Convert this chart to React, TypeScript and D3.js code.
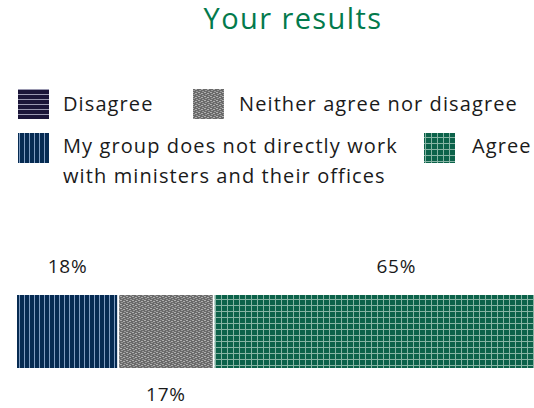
import React from "react";
import * as d3 from "d3";

const title = "Your results";
const barCategories = [
  "Disagree",
  "My group does not directly work with ministers and their offices",
  "Neither agree nor disagree",
  "Agree",
];
const barValues = [0, 18, 17, 65];
const legendOrder = [
  "Disagree",
  "Neither agree nor disagree",
  "My group does not directly work with ministers and their offices",
  "Agree",
];
const legendLines: Record<string, string[]> = {
  "Disagree": ["Disagree"],
  "Neither agree nor disagree": ["Neither agree nor disagree"],
  "My group does not directly work with ministers and their offices": [
    "My group does not directly work",
    "with ministers and their offices",
  ],
  "Agree": ["Agree"],
};

const patternIds: Record<string, string> = {
  "Disagree": "pDisagree",
  "Neither agree nor disagree": "pNeither",
  "My group does not directly work with ministers and their offices": "pGroup",
  "Agree": "pAgree",
};

const FONT = "'Open Sans', 'Noto Sans', sans-serif";

export default function App() {
  const W = 534, H = 408;
  const x = d3.scaleLinear().domain([0, 100]).range([17, 579]);
  const barTop = 295, barH = 73;

  const stacked: { cat: string; v: number; x0: number; x1: number }[] = [];
  let acc = 0;
  barCategories.forEach((c, i) => {
    const v = barValues[i];
    stacked.push({ cat: c, v, x0: acc, x1: acc + v });
    acc += v;
  });
  const visible = stacked.filter((s) => s.v > 0);

  const legendPos = [
    { x: 18, y: 89, tx: 63, ty: 111 },
    { x: 193, y: 89, tx: 239, ty: 111 },
    { x: 18, y: 133, tx: 63, ty: 153 },
    { x: 424, y: 133, tx: 472, ty: 153 },
  ];

  return (
    <svg width={W} height={H} style={{ position: "absolute", left: 0, top: 0, background: "#fff" }}>
      <defs>
        <pattern id="pDisagree" width="5" height="5" patternUnits="userSpaceOnUse">
          <rect width="5" height="5" fill="#1b1538" />
          <rect y="4" width="5" height="1" fill="#9a98b0" />
        </pattern>
        <pattern id="pGroup" width="5" height="5" patternUnits="userSpaceOnUse">
          <rect width="5" height="5" fill="#062b52" />
          <rect x="4" width="1" height="5" fill="#7f9cc0" />
        </pattern>
        <pattern id="pAgree" width="6" height="6" patternUnits="userSpaceOnUse">
          <rect width="6" height="6" fill="#0c624a" />
          <rect x="5" width="1" height="6" fill="#86b4a4" />
          <rect y="5" width="6" height="1" fill="#86b4a4" />
        </pattern>
        <pattern id="pNeither" width="6" height="4" patternUnits="userSpaceOnUse">
          <rect width="6" height="4" fill="#6a6a6a" />
          <rect x="0" y="0" width="2" height="1" fill="#b0b0b0" />
          <rect x="3" y="1" width="2" height="1" fill="#b0b0b0" />
          <rect x="1" y="2" width="2" height="1" fill="#9a9a9a" />
          <rect x="4" y="3" width="2" height="1" fill="#9a9a9a" />
        </pattern>
      </defs>

      <text x={293} y={29} textAnchor="middle" fontFamily={FONT} fontSize={29} fill="#037a4c" letterSpacing={1.4}>
        {title}
      </text>

      {legendOrder.map((c, i) => {
        const p = legendPos[i];
        return (
          <g key={c}>
            <rect x={p.x} y={p.y} width={31} height={30} fill={`url(#${patternIds[c]})`} />
            <text fontFamily={FONT} fontSize={20} fill="#1a1a1a" letterSpacing={1.1}>
              {legendLines[c].map((ln, j) => (
                <tspan key={j} x={p.tx} y={p.ty + j * 30}>
                  {ln}
                </tspan>
              ))}
            </text>
          </g>
        );
      })}

      {visible.map((s, i) => {
        const x0 = x(s.x0);
        const x1 = x(s.x1);
        const above = i % 2 === 0;
        return (
          <g key={s.cat}>
            <rect
              x={x0 + (i === 0 ? 0 : 1)}
              y={barTop}
              width={x1 - x0 - (i === 0 ? 1 : 2)}
              height={barH}
              fill={`url(#${patternIds[s.cat]})`}
            />
            <text
              x={(x0 + x1) / 2}
              y={above ? barTop - 22 : barTop + barH + 33}
              textAnchor="middle"
              fontFamily={FONT}
              fontSize={19}
              fill="#1a1a1a"
              letterSpacing={0.8}
            >
              {s.v}%
            </text>
          </g>
        );
      })}
    </svg>
  );
}
